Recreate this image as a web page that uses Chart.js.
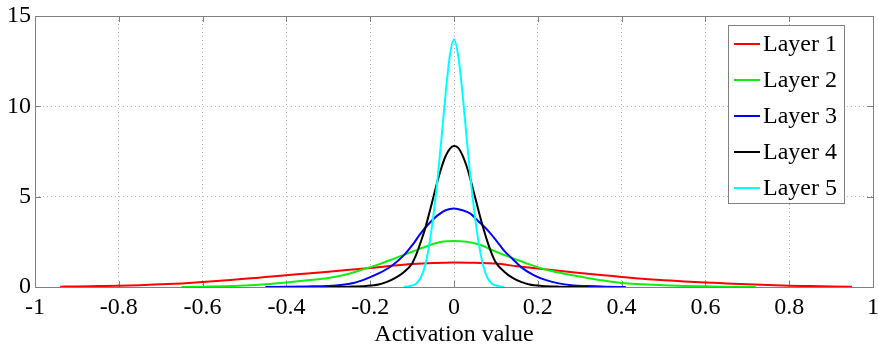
<!DOCTYPE html>
<html>
<head>
<meta charset="utf-8">
<script src="https://cdn.jsdelivr.net/npm/chart.js@4.4.1/dist/chart.umd.min.js"></script>
<style>
  html, body { margin: 0; padding: 0; background: #fff; }
  #wrap { width: 878px; height: 344px; }
</style>
</head>
<body>
<div id="wrap"><canvas id="grafico" width="878" height="344"></canvas></div>
<script>
// values
const layerNames = ["Layer 1", "Layer 2", "Layer 3", "Layer 4", "Layer 5"];
const layerColors = ["#ff0000", "#11ee11", "#0000ff", "#000000", "#00ffff"];

const layer1X = [-0.94, -0.9, -0.85, -0.8, -0.75, -0.7, -0.65, -0.6, -0.55, -0.5, -0.45, -0.4, -0.35, -0.3, -0.25, -0.2, -0.15, -0.1, -0.05, 0, 0.05, 0.1, 0.15, 0.2, 0.25, 0.3, 0.35, 0.4, 0.45, 0.5, 0.55, 0.6, 0.65, 0.7, 0.75, 0.8, 0.85, 0.9, 0.95];
const layer1Y = [0.02, 0.03, 0.05, 0.07, 0.1, 0.15, 0.2, 0.27, 0.36, 0.45, 0.55, 0.65, 0.75, 0.85, 0.95, 1.05, 1.17, 1.27, 1.33, 1.36, 1.34, 1.3, 1.15, 1.02, 0.9, 0.78, 0.67, 0.55, 0.45, 0.38, 0.31, 0.25, 0.2, 0.15, 0.11, 0.07, 0.05, 0.03, 0.01];

const layer2X = [-0.65, -0.6, -0.55, -0.5, -0.45, -0.4, -0.35, -0.3, -0.26, -0.22, -0.18, -0.14, -0.1, -0.06, -0.03, 0, 0.03, 0.06, 0.1, 0.14, 0.18, 0.22, 0.26, 0.3, 0.35, 0.4, 0.45, 0.5, 0.55, 0.6, 0.65, 0.72];
const layer2Y = [0, 0.02, 0.04, 0.08, 0.15, 0.25, 0.37, 0.5, 0.68, 0.95, 1.25, 1.6, 1.95, 2.3, 2.5, 2.55, 2.5, 2.35, 1.95, 1.6, 1.25, 0.95, 0.75, 0.58, 0.38, 0.22, 0.15, 0.1, 0.06, 0.04, 0.02, 0];

const layer3X = [-0.45, -0.4, -0.35, -0.3, -0.27, -0.24, -0.21, -0.18, -0.15, -0.12, -0.1, -0.08, -0.06, -0.04, -0.02, 0, 0.02, 0.04, 0.06, 0.08, 0.1, 0.12, 0.14, 0.16, 0.19, 0.22, 0.25, 0.28, 0.32, 0.36, 0.41];
const layer3Y = [0, 0.01, 0.03, 0.06, 0.11, 0.22, 0.45, 0.75, 1.15, 1.75, 2.3, 2.95, 3.5, 3.95, 4.25, 4.35, 4.25, 4.05, 3.6, 3.15, 2.6, 2.0, 1.55, 1.1, 0.66, 0.38, 0.2, 0.1, 0.05, 0.02, 0];

const layer4X = [-0.3, -0.25, -0.21, -0.18, -0.16, -0.14, -0.12, -0.1, -0.09, -0.08, -0.07, -0.06, -0.05, -0.04, -0.03, -0.02, -0.01, 0, 0.01, 0.02, 0.03, 0.04, 0.05, 0.06, 0.07, 0.08, 0.09, 0.1, 0.12, 0.14, 0.16, 0.18, 0.21, 0.25, 0.32];
const layer4Y = [0, 0.02, 0.06, 0.14, 0.28, 0.5, 0.82, 1.3, 1.8, 2.45, 3.15, 4.0, 4.9, 5.8, 6.6, 7.25, 7.65, 7.8, 7.7, 7.3, 6.7, 5.9, 5.0, 4.1, 3.25, 2.5, 1.85, 1.35, 0.85, 0.5, 0.28, 0.14, 0.06, 0.02, 0];

const layer5X = [-0.12, -0.11, -0.1, -0.09, -0.08, -0.07, -0.06, -0.05, -0.04, -0.03, -0.02, -0.01, 0, 0.01, 0.02, 0.03, 0.04, 0.05, 0.06, 0.07, 0.08, 0.09, 0.1, 0.11, 0.12];
const layer5Y = [0, 0.03, 0.08, 0.2, 0.5, 1.1, 2.2, 3.8, 5.8, 8.2, 10.7, 12.8, 13.7, 12.8, 10.8, 8.3, 5.9, 3.9, 2.3, 1.15, 0.5, 0.2, 0.08, 0.03, 0];

const xTicks = [-1, -0.8, -0.6, -0.4, -0.2, 0, 0.2, 0.4, 0.6, 0.8, 1];
const yTicks = [0, 5, 10, 15];

const layersX = [layer1X, layer2X, layer3X, layer4X, layer5X];
const layersY = [layer1Y, layer2Y, layer3Y, layer4Y, layer5Y];

const serif = "'Liberation Serif', 'Times New Roman', serif";

// box and inward ticks like the original figure
const boxPlugin = {
  id: "box",
  beforeDatasetsDraw(chart) {
    const { ctx, chartArea: a, scales } = chart;
    ctx.save();
    ctx.strokeStyle = "#808080";
    ctx.lineWidth = 1;
    ctx.beginPath();
    xTicks.forEach(v => {
      const px = Math.round(scales.x.getPixelForValue(v)) + 0.5;
      ctx.moveTo(px, a.bottom); ctx.lineTo(px, a.bottom - 6);
      ctx.moveTo(px, a.top); ctx.lineTo(px, a.top + 6);
    });
    yTicks.forEach(v => {
      const py = Math.round(scales.y.getPixelForValue(v)) + 0.5;
      ctx.moveTo(a.left, py); ctx.lineTo(a.left + 6, py);
      ctx.moveTo(a.right, py); ctx.lineTo(a.right - 6, py);
    });
    ctx.stroke();
    ctx.strokeRect(Math.round(a.left) + 0.5, Math.round(a.top) + 0.5, Math.round(a.right - a.left), Math.round(a.bottom - a.top));
    ctx.restore();
  }
};

const legendPlugin = {
  id: "boxLegend",
  afterDraw(chart) {
    const ctx = chart.ctx;
    const left = 728, top = 25, w = 116, h = 178;
    ctx.save();
    ctx.fillStyle = "#fff";
    ctx.fillRect(left, top, w, h);
    ctx.strokeStyle = "#808080";
    ctx.lineWidth = 1;
    ctx.strokeRect(left + 0.5, top + 0.5, w, h);
    ctx.font = "24px " + serif;
    ctx.textBaseline = "middle";
    ctx.textAlign = "left";
    chart.data.datasets.forEach((ds, i) => {
      const y = top + 19 + i * 36;
      ctx.strokeStyle = ds.borderColor;
      ctx.lineWidth = 2;
      ctx.beginPath();
      ctx.moveTo(734, y);
      ctx.lineTo(760, y);
      ctx.stroke();
      ctx.fillStyle = "#000";
      ctx.fillText(ds.label, 763, y + 1);
    });
    ctx.restore();
  }
};

const datasets = layerNames.map((name, i) => ({
  label: name,
  data: layersX[i].map((x, j) => ({ x: x, y: layersY[i][j] })),
  borderColor: layerColors[i],
  backgroundColor: layerColors[i],
  borderWidth: 2,
  pointRadius: 0,
  showLine: true,
  cubicInterpolationMode: "monotone",
  order: layerNames.length - i
}));

new Chart(document.getElementById("grafico"), {
  type: "scatter",
  data: { datasets: datasets },
  options: {
    responsive: false,
    animation: false,
    devicePixelRatio: 1,
    layout: { padding: { left: 0, right: 5, top: 16, bottom: 0 } },
    plugins: {
      legend: { display: false },
      tooltip: { enabled: false }
    },
    scales: {
      x: {
        type: "linear",
        min: -1,
        max: 1,
        afterBuildTicks: s => { s.ticks = xTicks.map(v => ({ value: v })); },
        afterFit: s => { s.height = 57; s.paddingLeft = 0; s.paddingRight = 0; },
        grid: { color: "#b8b8b8", drawTicks: false },
        border: { display: false, dash: [1, 3] },
        ticks: {
          color: "#000",
          padding: 6,
          maxRotation: 0,
          autoSkip: false,
          font: { family: serif, size: 24 },
          callback: v => String(Math.round(v * 10) / 10)
        },
        title: {
          display: true,
          text: "Activation value",
          color: "#000",
          font: { family: serif, size: 24, lineHeight: 1 },
          padding: { top: 0, bottom: -3 }
        }
      },
      y: {
        type: "linear",
        min: 0,
        max: 15,
        afterBuildTicks: s => { s.ticks = yTicks.map(v => ({ value: v })); },
        afterFit: s => { s.width = 35; s.paddingTop = 0; s.paddingBottom = 0; },
        grid: { color: "#b8b8b8", drawTicks: false },
        border: { display: false, dash: [1, 3] },
        ticks: {
          color: "#000",
          padding: 4,
          font: { family: serif, size: 24 }
        }
      }
    }
  },
  plugins: [boxPlugin, legendPlugin]
});
</script>
</body>
</html>
